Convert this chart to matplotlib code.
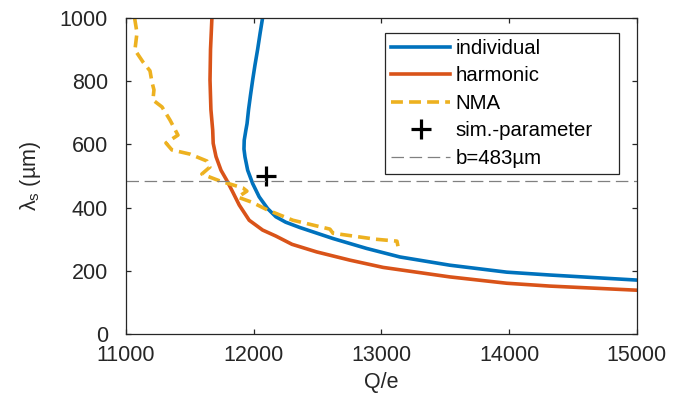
import matplotlib
matplotlib.use('Agg')
import matplotlib.pyplot as plt

# 字体设置（接近 MATLAB 的 Helvetica）
plt.rcParams['font.family'] = ['Liberation Sans', 'DejaVu Sans']
plt.rcParams['mathtext.fontset'] = 'custom'
plt.rcParams['mathtext.rm'] = 'Liberation Sans'
plt.rcParams['mathtext.it'] = 'Liberation Sans'
plt.rcParams['mathtext.sf'] = 'Liberation Sans'

# 数据
q_individual = [12070, 12050, 12031, 12010, 11992, 11975, 11960, 11948, 11939,
                11926, 11924, 11932, 11953, 11992, 12043, 12109, 12174, 12250,
                12362, 12623, 12884, 13145, 13536, 13982, 14319, 15000]
lam_individual = [1000, 950, 900, 850, 803, 755, 710, 665, 645,
                  613, 585, 560, 518, 476, 434, 397, 371, 354,
                  337, 302, 271, 244, 218, 196, 187, 171]

q_harmonic = [11673, 11662, 11658, 11665, 11679, 11683, 11705, 11744, 11788,
              11835, 11887, 11965, 12070, 12174, 12300, 12493, 12753, 13014,
              13536, 13982, 14319, 15000]
lam_harmonic = [1000, 900, 803, 710, 645, 603, 561, 518, 487,
                450, 408, 360, 329, 310, 284, 260, 234, 211,
                181, 161, 152, 139]

q_nma = [11067, 11086, 11070, 11133, 11188, 11203, 11219, 11211, 11282, 11344,
         11407, 11313, 11360, 11501, 11634, 11657, 11594, 11736, 11916, 11947,
         11876, 11986, 12111, 12307, 12597, 12621, 12957, 13122, 13130]
lam_nma = [1000, 952, 898, 860, 832, 797, 772, 740, 718, 677,
           629, 604, 582, 569, 547, 528, 506, 484, 462, 452,
           433, 417, 392, 360, 332, 319, 300, 294, 278]

sim_q = [12100]
sim_lam = [500]
b_value = 483

x_ticks = [11000, 12000, 13000, 14000, 15000]
y_ticks = [0, 200, 400, 600, 800, 1000]

c_blue = '#0072BD'
c_orange = '#D95319'
c_yellow = '#EDB120'
c_axis = '#262626'

fig = plt.figure(figsize=(6.9, 4.01), dpi=100)
ax = fig.add_axes([0.1826, 0.1666, 0.7402, 0.7893])

ax.plot(q_individual, lam_individual, color=c_blue, lw=2.6, label='individual')
ax.plot(q_harmonic, lam_harmonic, color=c_orange, lw=2.6, label='harmonic')
ax.plot(q_nma, lam_nma, color=c_yellow, lw=2.6, dashes=(3.3, 1.7), label='NMA')
ax.plot(sim_q, sim_lam, ls='none', marker='+', ms=14, mew=2.3, color='black',
        label='sim.-parameter')
ax.axhline(b_value, color='#808080', lw=0.9, dashes=(10, 4.5),
           label='b=%dµm' % b_value)

ax.set_xlim(11000, 15000)
ax.set_ylim(0, 1000)
ax.set_xticks(x_ticks)
ax.set_yticks(y_ticks)

for s in ax.spines.values():
    s.set_color(c_axis)
    s.set_linewidth(0.9)
ax.tick_params(direction='in', length=3.6, width=0.9, colors=c_axis,
               labelsize=15.5, top=True, right=True)
ax.tick_params(axis='y', pad=13)
ax.tick_params(axis='x', pad=8)

ax.set_xlabel('Q/e', fontsize=15.5, color=c_axis, labelpad=4)
ax.set_ylabel(r'$\lambda_{\mathrm{s}}$ (µm)', fontsize=15.5, color=c_axis, labelpad=12)

# MATLAB 风格图例：右侧留白较多
leg = ax.legend(loc='upper left', bbox_to_anchor=(0.507, 0.516, 0.459, 0.437),
                mode='expand', borderaxespad=0, fontsize=14.7, fancybox=False,
                framealpha=1, edgecolor=c_axis, handlelength=2.9,
                handletextpad=0.25, labelspacing=0.42, borderpad=0.3,
                numpoints=1)
leg.get_frame().set_linewidth(0.9)

fig.savefig('out.png', dpi=100)
